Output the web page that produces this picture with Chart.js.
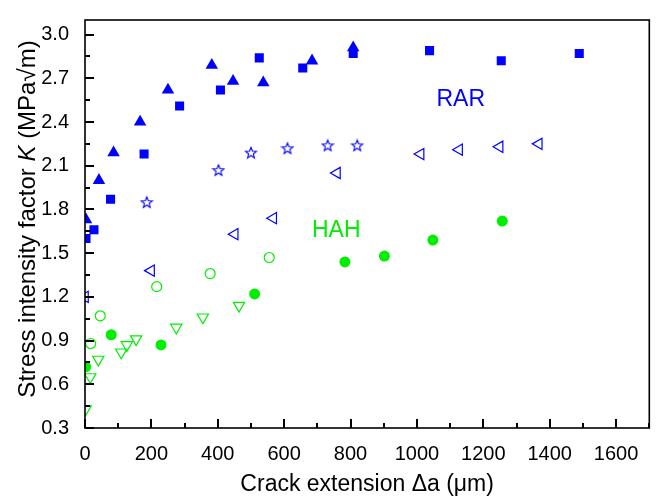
<!DOCTYPE html>
<html lang="en">
  <head>
    <meta charset="UTF-8" />
    <title>Stress intensity factor vs crack extension</title>
    <script src="https://cdn.jsdelivr.net/npm/chart.js"></script>
    <style>
      html,
      body {
        margin: 0;
        padding: 0;
        background: #fff;
      }
      #wrap {
        width: 657px;
        height: 496px;
      }
    </style>
  </head>
  <body>
    <div id="wrap">
      <canvas id="kChart" width="657" height="496"></canvas>
    </div>

    <script>
      // RAR data (blue)
      const rarSquareX = [3, 27, 77, 178, 285, 408, 525, 656, 808, 1038, 1254, 1489];
      const rarSquareY = [1.6, 1.66, 1.87, 2.18, 2.51, 2.62, 2.84, 2.77, 2.87, 2.89, 2.82, 2.87];
      const rarTriUpX = [3, 42, 86, 166, 250, 382, 446, 537, 684, 808];
      const rarTriUpY = [1.73, 2.0, 2.19, 2.4, 2.62, 2.79, 2.68, 2.67, 2.82, 2.91];
      const rarStarX = [186, 402, 500, 610, 731, 820];
      const rarStarY = [1.85, 2.07, 2.19, 2.22, 2.24, 2.24];
      const rarTriLeftX = [0, 199, 451, 567, 759, 1011, 1127, 1249, 1367];
      const rarTriLeftY = [1.2, 1.38, 1.63, 1.74, 2.05, 2.18, 2.21, 2.23, 2.25];

      // HAH data (green)
      const hahDotX = [2, 79, 229, 511, 783, 902, 1048, 1257];
      const hahDotY = [0.72, 0.94, 0.87, 1.22, 1.44, 1.48, 1.59, 1.72];
      const hahRingX = [17, 46, 216, 377, 555];
      const hahRingY = [0.88, 1.07, 1.27, 1.36, 1.47];
      const hahTriDownX = [2, 16, 40, 109, 126, 154, 275, 355, 464];
      const hahTriDownY = [0.43, 0.65, 0.77, 0.82, 0.87, 0.91, 0.99, 1.06, 1.14];

      // axes
      const xMin = 0, xMax = 1700, xStep = 100, xLabelStep = 200;
      const yMin = 0.3, yMax = 3.1, yStep = 0.15, yTop = 3.0;

      const BLUE = '#0000ff';
      const GREEN = '#00ee00';
      const FONT = "'Liberation Sans', Arial, sans-serif";

      function pts(xs, ys) {
        return xs.map((x, i) => ({ x: x, y: ys[i] }));
      }

      // open five point star used as a marker image
      function makeStar(color) {
        const c = document.createElement('canvas');
        c.width = 14;
        c.height = 14;
        const g = c.getContext('2d');
        g.strokeStyle = color;
        g.lineWidth = 1.1;
        g.beginPath();
        for (let i = 0; i < 10; i++) {
          const r = i % 2 === 0 ? 5.8 : 2.5;
          const a = -Math.PI / 2 + (i * Math.PI) / 5;
          const px = 7 + r * Math.cos(a);
          const py = 7.5 + r * Math.sin(a);
          if (i === 0) g.moveTo(px, py);
          else g.lineTo(px, py);
        }
        g.closePath();
        g.stroke();
        return c;
      }

      // inward ticks, frame, italic y title and the RAR / HAH notes
      const decorPlugin = {
        id: 'decor',
        afterDraw(chart) {
          const ctx = chart.ctx;
          const a = chart.chartArea;
          const xs = chart.scales.x;
          const ys = chart.scales.y;
          const bottom = Math.round(a.bottom);
          const left = Math.round(a.left);
          ctx.save();
          ctx.fillStyle = '#000';
          for (let i = 0; xMin + i * xStep <= xMax; i++) {
            const px = Math.round(xs.getPixelForValue(xMin + i * xStep));
            const len = i % 2 === 0 ? 9 : 5;
            ctx.fillRect(px - 1, bottom - len, 2, len);
          }
          for (let i = 0; yMin + i * yStep <= yTop + 1e-6; i++) {
            const py = Math.round(ys.getPixelForValue(yMin + i * yStep));
            const len = i % 2 === 0 ? 9 : 5;
            ctx.fillRect(left, py - 1, len, 2);
          }

          ctx.strokeStyle = '#000';
          ctx.lineWidth = 1.6;
          ctx.strokeRect(a.left, a.top, a.right - a.left, a.bottom - a.top);

          // y title with italic K
          const parts = [
            { t: 'Stress intensity factor ', f: '24px ' + FONT },
            { t: 'K', f: 'italic 24px ' + FONT },
            { t: ' (MPa\u221Am)', f: '24px ' + FONT },
          ];
          let total = 0;
          parts.forEach((p) => {
            ctx.font = p.f;
            p.w = ctx.measureText(p.t).width;
            total += p.w;
          });
          ctx.translate(28, (a.top + a.bottom) / 2 - 5);
          ctx.rotate(-Math.PI / 2);
          ctx.textBaseline = 'middle';
          ctx.textAlign = 'left';
          let cx = -total / 2;
          parts.forEach((p) => {
            ctx.font = p.f;
            ctx.fillText(p.t, cx, 0);
            cx += p.w;
          });
          ctx.restore();

          ctx.save();
          ctx.font = '23px ' + FONT;
          ctx.textAlign = 'center';
          ctx.textBaseline = 'middle';
          ctx.fillStyle = BLUE;
          ctx.fillText('RAR', xs.getPixelForValue(1132), ys.getPixelForValue(2.555));
          ctx.fillStyle = GREEN;
          ctx.fillText('HAH', xs.getPixelForValue(757), ys.getPixelForValue(1.655));
          ctx.restore();
        },
      };

      const ctx = document.getElementById('kChart').getContext('2d');
      const chart = new Chart(ctx, {
        type: 'scatter',
        data: {
          datasets: [
            {
              label: 'HAH open down triangle',
              data: pts(hahTriDownX, hahTriDownY),
              pointStyle: 'triangle',
              rotation: 180,
              radius: 6.5,
              backgroundColor: 'rgba(0,0,0,0)',
              borderColor: GREEN,
              borderWidth: 1.2,
              clip: 0,
            },
            {
              label: 'HAH open circle',
              data: pts(hahRingX, hahRingY),
              pointStyle: 'circle',
              radius: 5,
              backgroundColor: 'rgba(0,0,0,0)',
              borderColor: GREEN,
              borderWidth: 1.2,
              clip: 0,
            },
            {
              label: 'HAH filled circle',
              data: pts(hahDotX, hahDotY),
              pointStyle: 'circle',
              radius: 5.5,
              backgroundColor: GREEN,
              borderColor: GREEN,
              borderWidth: 0,
              clip: 0,
            },
            {
              label: 'RAR open left triangle',
              data: pts(rarTriLeftX, rarTriLeftY),
              pointStyle: 'triangle',
              rotation: 270,
              radius: 6.5,
              backgroundColor: 'rgba(0,0,0,0)',
              borderColor: BLUE,
              borderWidth: 1.2,
              clip: 0,
            },
            {
              label: 'RAR open star',
              data: pts(rarStarX, rarStarY),
              pointStyle: makeStar(BLUE),
              radius: 6,
              clip: 0,
            },
            {
              label: 'RAR filled square',
              data: pts(rarSquareX, rarSquareY),
              pointStyle: 'rect',
              radius: 6.4,
              backgroundColor: BLUE,
              borderColor: BLUE,
              borderWidth: 0,
              clip: 0,
            },
            {
              label: 'RAR filled triangle',
              data: pts(rarTriUpX, rarTriUpY),
              pointStyle: 'triangle',
              radius: 7.2,
              backgroundColor: BLUE,
              borderColor: BLUE,
              borderWidth: 0,
              clip: 0,
            },
          ],
        },
        options: {
          responsive: false,
          animation: false,
          layout: { padding: { left: 0, right: 4, top: 8, bottom: 0 } },
          plugins: {
            legend: { display: false },
            tooltip: { enabled: false },
          },
          scales: {
            x: {
              type: 'linear',
              min: xMin,
              max: xMax,
              grid: { display: false },
              border: { display: false },
              ticks: {
                stepSize: xStep,
                includeBounds: false,
                autoSkip: false,
                maxRotation: 0,
                padding: 6,
                color: '#000',
                font: { family: FONT, size: 20 },
                callback: (v) => (Math.round(v) % xLabelStep === 0 ? String(v) : ''),
              },
              title: {
                display: true,
                text: 'Crack extension \u0394a (\u03BCm)',
                color: '#000',
                font: { family: FONT, size: 23, lineHeight: 1 },
                padding: { top: 0, bottom: 0 },
              },
              afterFit: (s) => {
                s.height = 68;
              },
            },
            y: {
              type: 'linear',
              min: yMin,
              max: yMax,
              grid: { display: false },
              border: { display: false },
              ticks: {
                stepSize: yStep,
                includeBounds: false,
                autoSkip: false,
                padding: 8,
                color: '#000',
                font: { family: FONT, size: 20 },
                callback: (v) => (Math.round(v / yStep) % 2 === 0 ? v.toFixed(1) : ''),
              },
              afterFit: (s) => {
                s.width = 85;
              },
            },
          },
        },
        plugins: [decorPlugin],
      });
    </script>
  </body>
</html>
